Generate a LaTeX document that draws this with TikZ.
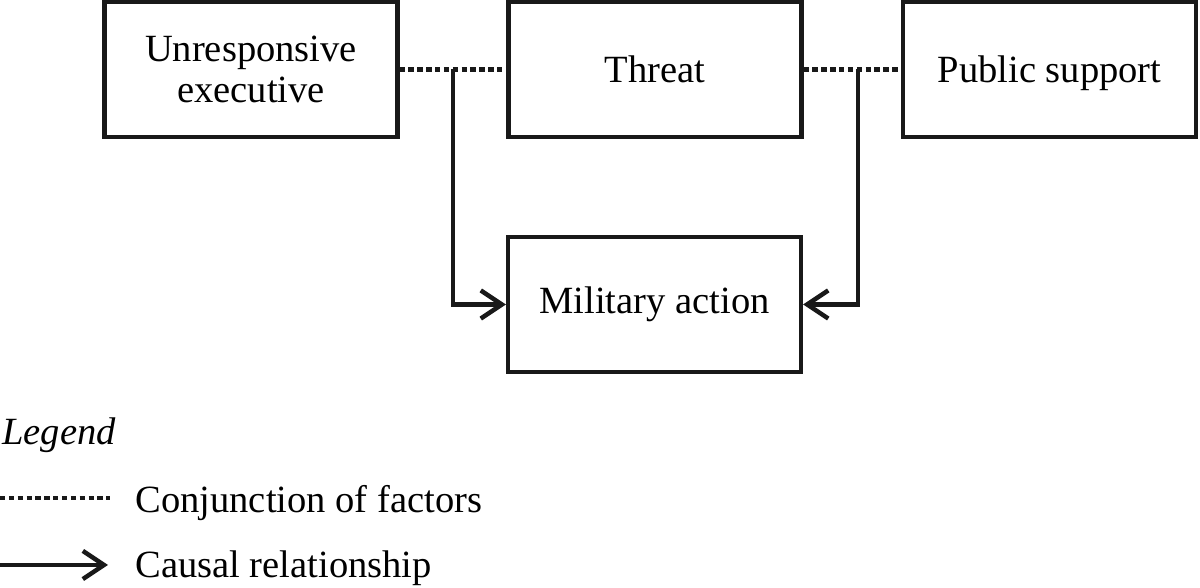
\documentclass[tikz,border=0pt]{standalone}
\usepackage{fontspec}
\setmainfont{Liberation Serif}
\usetikzlibrary{positioning, arrows.meta, calc}

\begin{document}
\begin{tikzpicture}[
    font=\fontsize{27.4}{29.2}\selectfont,
    box/.style={draw=black!90, line width=3pt, minimum width=7.325cm, minimum height=3.375cm, align=center, inner sep=0pt},
    conj/.style={line width=3pt, draw=black!90, dash pattern=on 3.8pt off 2.5pt},
    cause/.style={-{Straight Barb[length=15pt, width=20pt, line width=3.2pt]}, line width=3.1pt, draw=black!90},
    legendtext/.style={anchor=base west, inner sep=0pt}
]
\useasboundingbox (0,0) rectangle (30,14.7);

% Factor boxes
\node[box] (exec) at (6.275, 12.9625) {Unresponsive\\executive};
\node[box] (threat) at (16.375, 12.9625) {Threat};
\node[box, text depth=0pt] (public) at (26.2375, 12.9625) {Public support};
\node[box] (military) at (16.3625, 7.0875) {Military action};

% Conjunctions
\draw[conj] (exec.east) -- (threat.west);
\draw[conj] (threat.east) -- (public.west);
\coordinate (joinL) at ($(exec.east)!0.5!(threat.west)$);
\coordinate (joinR) at ($(threat.east)!0.56!(public.west)$);

% Causal arrows
\draw[cause] (joinL) |- (military.west);
\draw[cause] (joinR) |- (military.east);

% Legend
\node[legendtext, font=\fontsize{27.4}{29.2}\selectfont\itshape] (legend) at (0.05, 3.575) {Legend};
\coordinate (conjA) at (0, 2.25);
\coordinate (conjB) at (2.75, 2.25);
\draw[conj] (conjA) -- (conjB);
\node[legendtext] (conjtext) at (3.38, 1.875) {Conjunction of factors};
\coordinate (causeA) at (0, 0.575);
\coordinate (causeB) at (2.7, 0.575);
\draw[cause] (causeA) -- (causeB);
\node[legendtext] (causetext) at (3.38, 0.25) {Causal relationship};

\end{tikzpicture}
\end{document}
